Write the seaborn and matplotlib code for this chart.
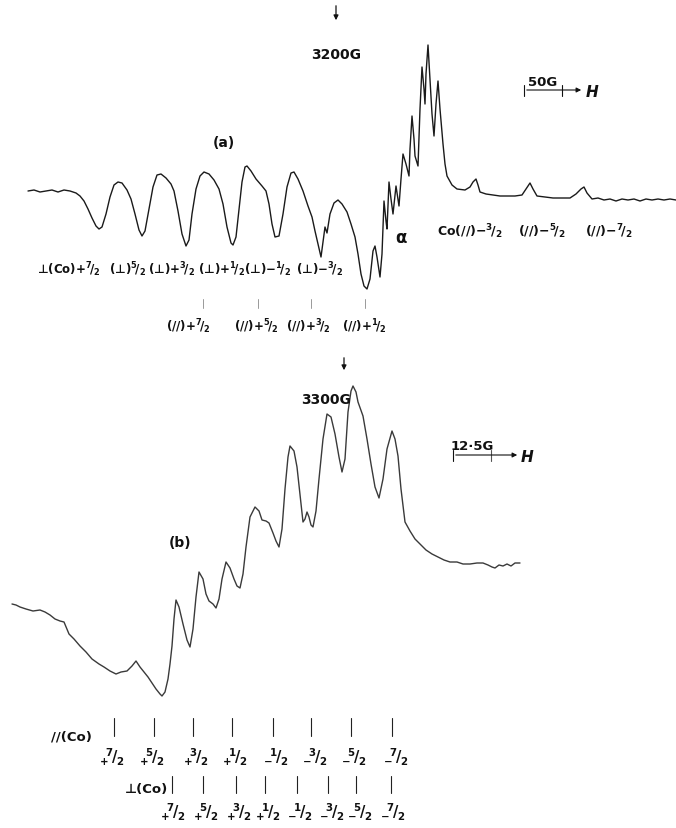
#!/usr/bin/env python3
import pandas as pd
import seaborn as sns
from matplotlib import pyplot as plt

# trace (a): horizontal position / pen deflection (px units)
trace_a_x = [28, 34, 40, 46, 52, 58, 64, 70, 76, 80, 84, 88, 92, 96, 99, 102, 106, 110, 114, 118,
             122, 127, 131, 135, 139, 142, 145, 149, 153, 157, 161, 166, 171, 174, 178, 182, 186, 189,
             192, 196, 200, 204, 209, 214, 219, 223, 227, 231, 233, 236, 239, 242, 245, 247, 251, 256,
             262, 266, 269, 272, 275, 279, 283, 287, 291, 294, 298, 303, 308, 312, 315, 318, 321, 323,
             325, 327, 330, 334, 338, 342, 347, 351, 355, 358, 361, 364, 367, 370, 373, 375, 377, 380,
             382, 384, 386, 387, 389, 391, 393, 396, 398, 399, 401, 403, 406, 409, 410, 412, 414, 415,
             418, 420, 422, 424, 425, 426, 428, 430, 432, 434, 436, 438, 440, 443, 445, 447, 452, 457,
             465, 470, 473, 476, 478, 480, 486, 493, 500, 508, 515, 522, 526, 530, 533, 537, 545, 553,
             562, 570, 576, 581, 584, 587, 592, 598, 604, 610, 616, 622, 628, 634, 640, 646, 652, 658,
             664, 670, 676]
trace_a_y = [192, 191, 193, 192, 191, 193, 191, 192, 194, 197, 202, 210, 219, 227, 230, 228, 215, 198,
             186, 183, 184, 191, 200, 215, 231, 237, 232, 210, 188, 176, 175, 179, 185, 192, 212, 235,
             247, 241, 215, 190, 177, 173, 175, 181, 190, 205, 228, 244, 246, 238, 210, 183, 168, 167,
             172, 180, 187, 192, 205, 225, 238, 237, 215, 188, 174, 173, 180, 192, 207, 218, 232, 245,
             258, 243, 228, 234, 215, 204, 201, 205, 213, 225, 238, 255, 275, 287, 290, 280, 252, 247,
             258, 278, 255, 202, 222, 230, 183, 200, 215, 187, 200, 207, 180, 155, 165, 177, 150, 117,
             140, 157, 167, 110, 68, 90, 105, 75, 46, 80, 115, 137, 105, 82, 110, 145, 165, 177, 186,
             190, 191, 188, 183, 180, 186, 193, 195, 196, 197, 197, 197, 196, 190, 184, 190, 197, 198,
             199, 199, 199, 195, 190, 188, 194, 200, 199, 201, 200, 202, 200, 201, 200, 202, 200, 201,
             200, 201, 200, 201]

# trace (b)
trace_b_x = [12, 16, 20, 26, 33, 40, 45, 50, 55, 60, 64, 69, 74, 80, 86, 92, 99, 104, 110, 116, 121,
             127, 132, 136, 140, 144, 148, 152, 156, 160, 162, 165, 168, 170, 172, 174, 176, 179, 183,
             187, 190, 193, 196, 199, 203, 206, 209, 213, 216, 219, 222, 226, 230, 234, 237, 240, 243,
             246, 250, 255, 259, 262, 266, 269, 273, 276, 279, 282, 285, 288, 290, 294, 297, 300, 303,
             305, 307, 309, 311, 313, 316, 319, 323, 327, 331, 335, 339, 342, 345, 348, 351, 353, 356,
             358, 363, 367, 371, 375, 379, 383, 387, 392, 395, 398, 401, 405, 410, 415, 420, 426, 432,
             438, 444, 450, 457, 463, 470, 477, 483, 488, 492, 495, 499, 503, 507, 511, 515, 520]
trace_b_y = [605, 606, 608, 610, 612, 611, 613, 616, 620, 622, 623, 635, 640, 647, 653, 660, 665, 668,
             672, 675, 673, 672, 667, 662, 668, 673, 678, 684, 690, 695, 697, 693, 680, 665, 647, 620,
             601, 608, 625, 641, 648, 630, 598, 573, 580, 595, 602, 605, 609, 600, 580, 563, 569, 580,
             587, 589, 575, 548, 518, 508, 512, 521, 522, 524, 534, 542, 548, 530, 490, 458, 447, 452,
             468, 495, 523, 520, 513, 518, 526, 528, 512, 480, 440, 415, 418, 435, 458, 473, 460, 413,
             392, 387, 393, 403, 417, 440, 465, 488, 499, 480, 450, 432, 440, 457, 490, 523, 532, 540,
             545, 551, 555, 558, 561, 563, 563, 565, 565, 564, 564, 566, 568, 569, 566, 567, 565, 567,
             564, 564]

# assignment labels
a_perp_labels = ['⊥(Co)$+^{7}\\!/_{2}$', '(⊥)$^{5}\\!/_{2}$', '(⊥)$+^{3}\\!/_{2}$',
                 '(⊥)$+^{1}\\!/_{2}$', '(⊥)$-^{1}\\!/_{2}$', '(⊥)$-^{3}\\!/_{2}$']
a_perp_pos = [69, 128, 172, 222, 268, 320]
a_par_labels = ['(//)$+^{7}\\!/_{2}$', '(//)$+^{5}\\!/_{2}$', '(//)$+^{3}\\!/_{2}$', '(//)$+^{1}\\!/_{2}$']
a_par_pos = [188, 256, 308, 364]
a_par_ticks = [203, 258, 311, 365]
a_high_labels = ['Co(//)$-^{3}\\!/_{2}$', '(//)$-^{5}\\!/_{2}$', '(//)$-^{7}\\!/_{2}$']
a_high_pos = [470, 542, 609]

b_nums = ['+7', '+5', '+3', '+1', '-1', '-3', '-5', '-7']
b_par_ticks = [114, 154, 193, 232, 273, 311, 351, 392]
b_par_pos = [112, 152, 196, 235, 276, 315, 354, 396]
b_perp_ticks = [172, 203, 236, 265, 297, 328, 356, 391]
b_perp_pos = [173, 206, 239, 268, 300, 332, 360, 393]


def frac(s):
    return '$_{%s}\\!{}^{%s}\\!/_{2}$' % (s[0], s[1])


sns.set_theme(style='white')
plt.rcParams['font.family'] = ['DejaVu Sans']
plt.rcParams['mathtext.default'] = 'regular'

df_a = pd.DataFrame({'x': trace_a_x, 'y': trace_a_y})
df_b = pd.DataFrame({'x': trace_b_x, 'y': trace_b_y})

fig = plt.figure(figsize=(6.76, 8.29), dpi=100)
ax = fig.add_axes([0, 0, 1, 1])
sns.lineplot(data=df_a, x='x', y='y', ax=ax, sort=False, estimator=None, color='#1a1a1a', lw=1.0)
sns.lineplot(data=df_b, x='x', y='y', ax=ax, sort=False, estimator=None, color='#3a3a3a', lw=1.0)
ax.set_xlim(0, 676)
ax.set_ylim(829, 0)
ax.axis('off')

txt = dict(ha='center', va='center', color='#111', fontweight='bold')

# panel (a)
ax.annotate('', xy=(336, 24), xytext=(336, 4),
            arrowprops=dict(arrowstyle='-|>', color='#111', lw=0.9, mutation_scale=7))
ax.text(336, 55, '3200G', fontsize=10, **txt)
ax.text(224, 143, '(a)', fontsize=10, **txt)
ax.text(401, 238, 'α', fontsize=12, **txt)
ax.plot([524, 524], [86, 97], color='#111', lw=0.8)
ax.plot([562, 562], [86, 97], color='#111', lw=0.8)
ax.annotate('', xy=(584, 91), xytext=(524, 91),
            arrowprops=dict(arrowstyle='-|>', color='#111', lw=0.8, mutation_scale=7))
ax.text(543, 82, '50G', fontsize=9.5, **txt)
ax.text(592, 92, 'H', fontsize=11, fontstyle='italic', **txt)
for lab, x in zip(a_perp_labels, a_perp_pos):
    ax.text(x, 270, lab, fontsize=8.5, **txt)
for lab, x in zip(a_high_labels, a_high_pos):
    ax.text(x, 232, lab, fontsize=9, **txt)
for lab, x in zip(a_par_labels, a_par_pos):
    ax.text(x, 327, lab, fontsize=8.5, **txt)
for x in a_par_ticks:
    ax.plot([x, x], [300, 309], color='#999', lw=0.7)

# panel (b)
ax.annotate('', xy=(344, 374), xytext=(344, 356),
            arrowprops=dict(arrowstyle='-|>', color='#111', lw=0.9, mutation_scale=7))
ax.text(326, 400, '3300G', fontsize=10, **txt)
ax.text(180, 543, '(b)', fontsize=10, **txt)
ax.plot([453, 453], [451, 462], color='#111', lw=0.8)
ax.plot([491, 491], [451, 462], color='#555', lw=0.8)
ax.annotate('', xy=(520, 456), xytext=(453, 456),
            arrowprops=dict(arrowstyle='-|>', color='#111', lw=0.8, mutation_scale=7))
ax.text(472, 446, '12·5G', fontsize=9.5, **txt)
ax.text(527, 457, 'H', fontsize=11, fontstyle='italic', **txt)

ax.text(71, 737, '//(Co)', fontsize=9.5, **txt)
for n, tx, lx in zip(b_nums, b_par_ticks, b_par_pos):
    ax.plot([tx, tx], [719, 737], color='#222', lw=0.8)
    ax.text(lx, 757, frac(n), fontsize=10.5, **txt)
ax.text(147, 790, '⊥(Co)', fontsize=9.5, **txt)
for n, tx, lx in zip(b_nums, b_perp_ticks, b_perp_pos):
    ax.plot([tx, tx], [777, 794], color='#222', lw=0.8)
    ax.text(lx, 812, frac(n), fontsize=10.5, **txt)

fig.savefig('out.png', dpi=100)
